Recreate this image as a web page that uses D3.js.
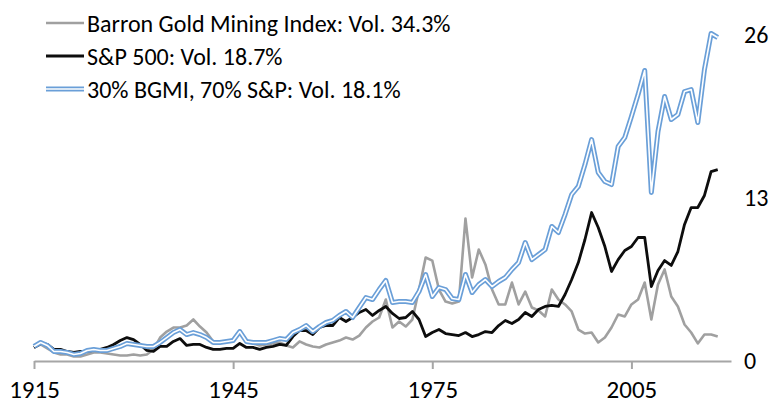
<!DOCTYPE html>
<html>
<head>
<meta charset="utf-8">
<script src="https://cdn.jsdelivr.net/npm/d3@7"></script>
<style>
  body { margin: 0; background: #fff; }
  svg text { font-family: Carlito, Calibri, Lato, sans-serif; fill: #000; }
</style>
</head>
<body>
<div id="chart"></div>
<script>
const width = 772, height = 405;

// annual index levels, 1915 .. 2018
const firstYear = 1915;
const gold = [
  1.08, 1.32, 1.00, 0.68, 0.52,
  0.52, 0.36, 0.36, 0.52, 0.68,
  0.68, 0.60, 0.52, 0.44, 0.44,
  0.52, 0.44, 0.52, 0.92, 1.87,
  2.35, 2.67, 2.67, 2.83, 3.31,
  2.75, 2.27, 1.56, 1.48, 1.56,
  1.71, 2.43, 1.56, 1.40, 1.24,
  1.32, 1.40, 1.48, 1.24, 1.08,
  1.56, 1.32, 1.16, 1.08, 1.32,
  1.48, 1.63, 1.87, 1.71, 2.03,
  2.67, 3.15, 3.47, 4.90, 2.67,
  3.15, 2.75, 3.31, 5.70, 8.25,
  8.01, 5.70, 4.74, 4.59, 4.74,
  11.36, 6.66, 8.89, 7.70, 5.70,
  4.51, 4.51, 6.26, 4.51, 5.54,
  4.27, 4.03, 3.55, 5.70, 4.90,
  4.51, 3.95, 2.51, 2.19, 2.27,
  1.48, 1.87, 2.67, 3.71, 3.55,
  4.51, 4.90, 6.26, 3.31, 6.10,
  7.30, 5.14, 4.35, 2.91, 2.27,
  1.40, 2.11, 2.11, 1.95
];
const sp500 = [
  1.08, 1.40, 1.32, 0.92, 0.92,
  0.76, 0.68, 0.76, 0.76, 0.84,
  0.92, 1.08, 1.32, 1.63, 1.87,
  1.71, 1.32, 0.84, 0.76, 1.16,
  1.16, 1.56, 1.79, 1.24, 1.32,
  1.32, 1.08, 0.92, 0.92, 1.00,
  1.00, 1.40, 1.08, 1.08, 0.92,
  1.08, 1.16, 1.32, 1.24, 1.95,
  2.43, 2.43, 2.11, 2.67, 2.83,
  2.83, 3.47, 3.15, 3.47, 3.87,
  4.11, 3.63, 4.03, 4.35, 3.79,
  3.39, 3.47, 3.95, 3.31, 1.95,
  2.27, 2.51, 2.19, 2.11, 2.03,
  2.27, 1.95, 2.11, 2.35, 2.27,
  2.83, 3.23, 2.99, 3.31, 3.87,
  3.55, 4.11, 4.35, 4.43, 4.35,
  5.30, 6.50, 7.85, 9.69, 11.84,
  10.65, 9.13, 7.14, 8.09, 8.81,
  9.13, 9.85, 9.85, 5.94, 7.22,
  8.01, 7.62, 8.73, 10.89, 12.24,
  12.24, 13.20, 15.11, 15.27
];
const blend = [
  1.16, 1.48, 1.24, 0.76, 0.76,
  0.68, 0.52, 0.60, 0.84, 0.92,
  0.84, 0.84, 1.00, 1.16, 1.40,
  1.32, 1.24, 1.16, 1.16, 1.48,
  1.87, 2.27, 2.51, 2.11, 2.27,
  2.11, 1.87, 1.48, 1.48, 1.56,
  1.63, 2.35, 1.56, 1.48, 1.48,
  1.48, 1.63, 1.79, 1.71, 2.27,
  2.51, 2.83, 2.35, 2.75, 3.07,
  3.23, 3.63, 3.95, 3.47, 4.27,
  5.06, 4.90, 5.70, 6.42, 4.67,
  4.74, 4.74, 4.67, 5.54, 6.90,
  5.14, 5.86, 5.70, 4.98, 4.90,
  6.90, 5.46, 6.10, 6.50, 5.94,
  6.34, 6.66, 7.30, 7.85, 9.45,
  8.09, 8.49, 8.89, 10.73, 10.25,
  11.68, 13.28, 13.92, 15.67, 17.66,
  15.03, 14.31, 14.07, 17.11, 17.82,
  19.50, 21.25, 23.17, 13.44, 18.30,
  21.09, 19.26, 19.66, 21.49, 21.65,
  19.02, 23.25, 26.12, 25.80
];
const legendNames = [
  'Barron Gold Mining Index: Vol. 34.3%',
  'S&P 500: Vol. 18.7%',
  '30% BGMI, 70% S&P: Vol. 18.1%'
];
const xTicks = [1915, 1945, 1975, 2005];
const yTicks = [0, 13, 26];

const svg = d3.select('#chart').append('svg')
  .attr('width', width)
  .attr('height', height);

const x = d3.scaleLinear().domain([1915, 2020]).range([34, 731]);
const y = d3.scaleLinear().domain([0, 26]).range([361, 35]);

// x axis
const xAxis = svg.append('g')
  .attr('transform', 'translate(0,' + y(0) + ')')
  .call(d3.axisBottom(x).tickValues(xTicks).tickSize(8).tickSizeOuter(0)
    .tickPadding(11).tickFormat(d3.format('d')));
xAxis.select('.domain').attr('stroke', '#a6a6a6').attr('stroke-width', 2);
xAxis.selectAll('.tick line').attr('stroke', '#a6a6a6').attr('stroke-width', 2);
xAxis.selectAll('.tick text').attr('font-size', 25).attr('fill', '#000')
  .attr('font-family', 'Lato, sans-serif');

// y axis labels on the right
const yAxis = svg.append('g')
  .attr('transform', 'translate(744,0)')
  .call(d3.axisRight(y).tickValues(yTicks).tickSize(0).tickPadding(0));
yAxis.select('.domain').remove();
yAxis.selectAll('.tick text').attr('font-size', 24).attr('fill', '#000')
  .attr('font-family', 'Lato, sans-serif');

const line = d3.line()
  .x((d, i) => x(firstYear + i))
  .y(d => y(d));

svg.append('path').datum(gold)
  .attr('d', line).attr('fill', 'none')
  .attr('stroke', '#a0a0a0').attr('stroke-width', 2.6)
  .attr('stroke-linejoin', 'round');

svg.append('path').datum(sp500)
  .attr('d', line).attr('fill', 'none')
  .attr('stroke', '#0d0d0d').attr('stroke-width', 2.8)
  .attr('stroke-linejoin', 'round');

// double line for the blend
svg.append('path').datum(blend)
  .attr('d', line).attr('fill', 'none')
  .attr('stroke', '#6a9fd8').attr('stroke-width', 5)
  .attr('stroke-linejoin', 'round');
svg.append('path').datum(blend)
  .attr('d', line).attr('fill', 'none')
  .attr('stroke', '#fff').attr('stroke-width', 1.6)
  .attr('stroke-linejoin', 'round');

// legend
const legend = svg.append('g').attr('class', 'legend');
const rowY = i => 23 + i * 33;

legend.append('line')
  .attr('x1', 46).attr('x2', 84).attr('y1', rowY(0)).attr('y2', rowY(0))
  .attr('stroke', '#a0a0a0').attr('stroke-width', 2.6);
legend.append('line')
  .attr('x1', 46).attr('x2', 84).attr('y1', rowY(1)).attr('y2', rowY(1))
  .attr('stroke', '#0d0d0d').attr('stroke-width', 2.8);
legend.append('line')
  .attr('x1', 46).attr('x2', 84).attr('y1', rowY(2)).attr('y2', rowY(2))
  .attr('stroke', '#6a9fd8').attr('stroke-width', 5);
legend.append('line')
  .attr('x1', 46).attr('x2', 84).attr('y1', rowY(2)).attr('y2', rowY(2))
  .attr('stroke', '#fff').attr('stroke-width', 1.6);

legend.selectAll('text').data(legendNames)
  .enter().append('text')
  .attr('x', 87)
  .attr('y', (d, i) => rowY(i) + 9)
  .attr('font-size', 24)
  .text(d => d);
</script>
</body>
</html>
